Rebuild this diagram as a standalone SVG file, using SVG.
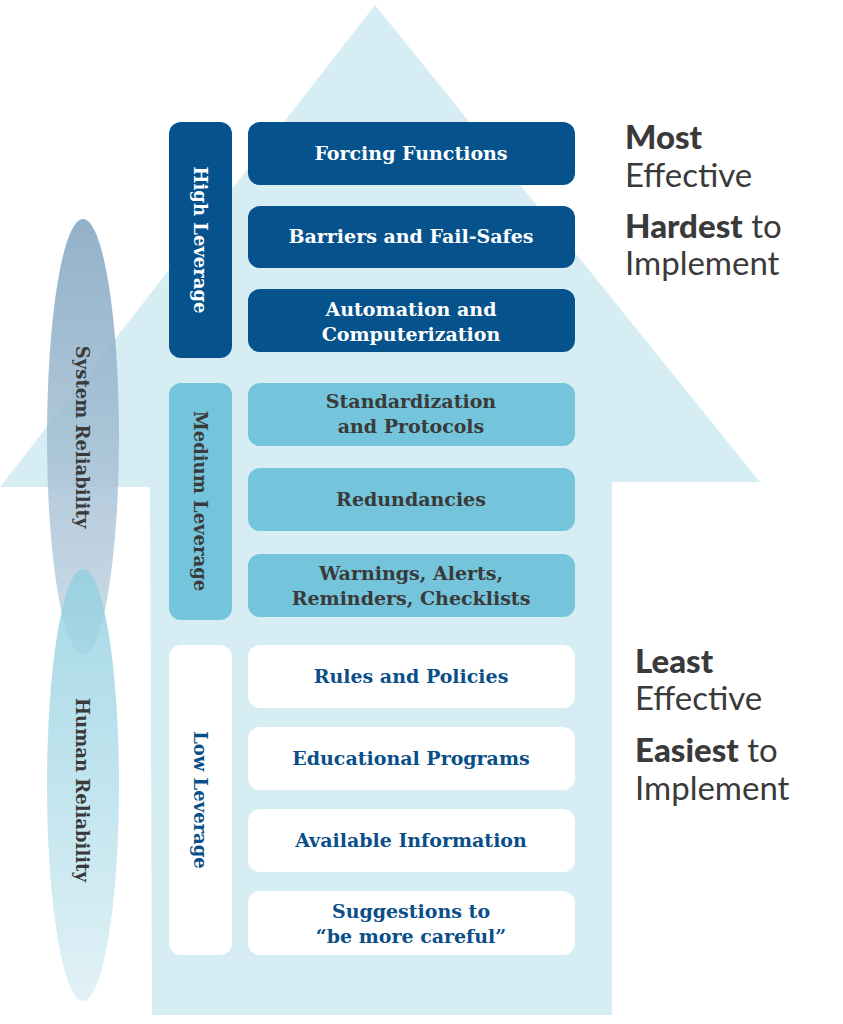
<svg xmlns="http://www.w3.org/2000/svg" width="843" height="1024" viewBox="0 0 843 1024">
<defs>
<linearGradient id="gs" x1="0" y1="0" x2="0" y2="1"><stop offset="0" stop-color="#7fa4c0" stop-opacity="0.85"/><stop offset="1" stop-color="#c4d6e4" stop-opacity="0.85"/></linearGradient>
<linearGradient id="gh" x1="0" y1="0" x2="0" y2="1"><stop offset="0" stop-color="#8fcfe0" stop-opacity="0.8"/><stop offset="1" stop-color="#dff0f6" stop-opacity="0.9"/></linearGradient>
<style>
.it{font-family:"DejaVu Serif",serif;font-weight:bold;font-size:19px;text-anchor:middle}
.bar{font-family:"DejaVu Serif",serif;font-weight:bold;font-size:18px;text-anchor:middle}
.rt{font-family:Lato,"Open Sans",sans-serif;font-size:33px;fill:#3a3a3a}
.hi{fill:#05528c}.md{fill:#74c5dc}.lo{fill:#ffffff}
</style>
</defs>
<rect width="843" height="1024" fill="#fff"/>
<polygon points="375,5 760,482 612,482 612,1015 152,1015 150,487 0,487" fill="#d5edf3"/>
<g id="system-reliability"><ellipse cx="83" cy="437" rx="36" ry="218" fill="url(#gs)"/>
<text class="bar" fill="#3a3a3a" transform="translate(76,437) rotate(90)">System Reliability</text></g>
<g id="human-reliability"><ellipse cx="83" cy="785" rx="36" ry="216" fill="url(#gh)"/>
<text class="bar" fill="#3a3a3a" transform="translate(76,790) rotate(90)">Human Reliability</text></g>
<g id="connectors"/>
<g id="high-leverage"><rect x="169" y="122" width="63" height="236" rx="12" class="hi"/><text class="bar" fill="#fff" transform="translate(194,240) rotate(90)">High Leverage</text></g>
<g id="forcing"><rect x="248" y="122" width="327" height="63" rx="12" class="hi"/><text class="it" x="411" y="160" fill="#fff">Forcing Functions</text></g>
<g id="barriers"><rect x="248" y="206" width="327" height="62" rx="12" class="hi"/><text class="it" x="411" y="243" fill="#fff">Barriers and Fail-Safes</text></g>
<g id="automation"><rect x="248" y="289" width="327" height="63" rx="12" class="hi"/><text class="it" x="411" y="316" fill="#fff">Automation and</text><text class="it" x="411" y="341" fill="#fff">Computerization</text></g>
<g id="medium-leverage"><rect x="169" y="383" width="63" height="237" rx="12" class="md"/><text class="bar" fill="#3a3a3a" transform="translate(194,501) rotate(90)">Medium Leverage</text></g>
<g id="standardization"><rect x="248" y="383" width="327" height="63" rx="12" class="md"/><text class="it" x="411" y="408" fill="#3a3a3a">Standardization</text><text class="it" x="411" y="433" fill="#3a3a3a">and Protocols</text></g>
<g id="redundancies"><rect x="248" y="468" width="327" height="63" rx="12" class="md"/><text class="it" x="411" y="506" fill="#3a3a3a">Redundancies</text></g>
<g id="warnings"><rect x="248" y="554" width="327" height="63" rx="12" class="md"/><text class="it" x="411" y="580" fill="#3a3a3a">Warnings, Alerts,</text><text class="it" x="411" y="605" fill="#3a3a3a">Reminders, Checklists</text></g>
<g id="low-leverage"><rect x="169" y="645" width="63" height="310" rx="12" class="lo"/><text class="bar" fill="#0a4f89" transform="translate(194,800) rotate(90)">Low Leverage</text></g>
<g id="rules"><rect x="248" y="645" width="327" height="63" rx="12" class="lo"/><text class="it" x="411" y="683" fill="#0a4f89">Rules and Policies</text></g>
<g id="educational"><rect x="248" y="727" width="327" height="63" rx="12" class="lo"/><text class="it" x="411" y="765" fill="#0a4f89">Educational Programs</text></g>
<g id="available"><rect x="248" y="809" width="327" height="63" rx="12" class="lo"/><text class="it" x="411" y="847" fill="#0a4f89">Available Information</text></g>
<g id="suggestions"><rect x="248" y="891" width="327" height="64" rx="12" class="lo"/><text class="it" x="411" y="918" fill="#0a4f89">Suggestions to</text><text class="it" x="411" y="943" fill="#0a4f89">“be more careful”</text></g>
<g id="top-labels">
<text class="rt" x="625" y="149" font-weight="900">Most</text>
<text class="rt" x="625" y="187">Effective</text>
<text class="rt" x="625" y="238"><tspan font-weight="900">Hardest</tspan> to</text>
<text class="rt" x="625" y="275">Implement</text></g>
<g id="bottom-labels">
<text class="rt" x="635" y="673" font-weight="900">Least</text>
<text class="rt" x="635" y="710">Effective</text>
<text class="rt" x="635" y="762"><tspan font-weight="900">Easiest</tspan> to</text>
<text class="rt" x="635" y="800">Implement</text></g>
</svg>
